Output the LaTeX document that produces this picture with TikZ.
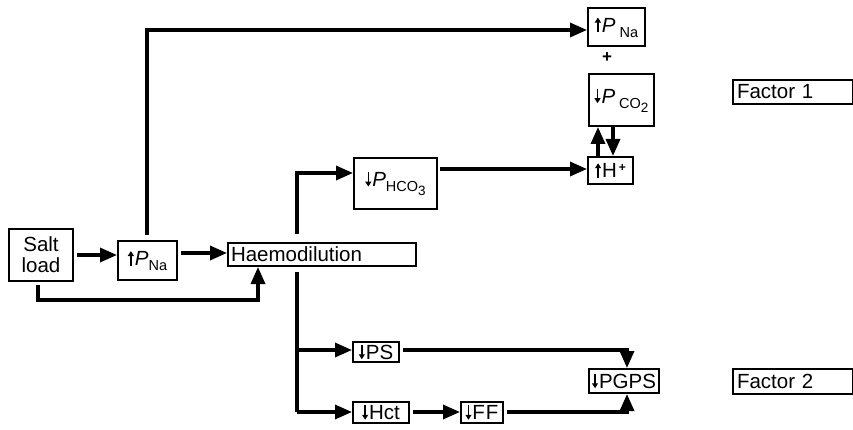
\documentclass[tikz,border=0pt]{standalone}
\usepackage{fontspec}
\setmainfont{Liberation Sans}
\usetikzlibrary{arrows.meta}
\newcommand{\upa}{\tikz[baseline=0pt,x=1pt,y=1pt]\draw[line width=1.5pt,-{Triangle[length=5pt,width=6pt]}] (3,0) -- (3,14.5);\kern1pt}
\newcommand{\dna}{\tikz[baseline=0pt,x=1pt,y=1pt]\draw[line width=1.5pt,-{Triangle[length=5pt,width=6pt]}] (3,14.5) -- (3,0);\kern1pt}
\newcommand{\subs}[1]{\raisebox{-5pt}{\fontsize{14.5}{14.5}\selectfont #1}}
\newcommand{\subsub}[1]{\raisebox{-4pt}{\fontsize{13.5}{13.5}\selectfont #1}}
\begin{document}
\begin{tikzpicture}[x=1pt,y=-1pt,
  every node/.style={font=\fontsize{20.5}{23}\selectfont},
  bx/.style={draw,line width=2pt,inner sep=0pt,anchor=north west},
  conn/.style={line width=3.3pt},
  arr/.style={line width=3.3pt,-{Triangle[length=17pt,width=14pt]}}]
\useasboundingbox (0,0) rectangle (853,430);
% boxes
\node[bx,minimum width=64pt,minimum height=52pt,align=center] (salt) at (8,228) {Salt\\[-2pt]load};
\node[bx,minimum width=59pt,minimum height=39pt] (pna1) at (117,240) {\upa\textit{P}\subs{Na}};
\node[bx,minimum width=188pt,minimum height=23pt,text width=182pt,align=left,inner xsep=3pt] (haemo) at (227,242) {Haemodilution};
\node[bx,minimum width=57pt,minimum height=38pt] (pnatop) at (587,7) {\upa\textit{P}\subs{ Na}};
\node[font=\bfseries\fontsize{17}{17}\selectfont] (plus) at (607,58) {+};
\node[bx,minimum width=65pt,minimum height=52pt] (pco2) at (588,73) {\dna\textit{P}\subs{ CO\subsub{2}}};
\node[bx,minimum width=45pt,minimum height=27pt] (hplus) at (587,156) {\upa H\raisebox{6pt}{\fontsize{12}{12}\selectfont\bfseries\,+}};
\node[bx,minimum width=83pt,minimum height=51pt] (phco3) at (353,157) {\dna\textit{P}\subs{HCO\subsub{3}}};
\node[bx,minimum width=120pt,minimum height=24pt,text width=112pt,align=left,inner xsep=4pt] (f1) at (732,79) {Factor 1};
\node[bx,minimum width=46pt,minimum height=20pt] (ps) at (352,341) {\dna PS};
\node[bx,minimum width=56pt,minimum height=21pt] (hct) at (352,401) {\dna Hct};
\node[bx,minimum width=42pt,minimum height=21pt] (ff) at (460,401) {\dna F\kern1pt F};
\node[bx,minimum width=70pt,minimum height=24pt] (pgps) at (588,368) {\dna PGPS};
\node[bx,minimum width=120pt,minimum height=25pt,text width=112pt,align=left,inner xsep=4pt] (f2) at (732,368) {Factor 2};
% connectors
\draw[arr,shorten <=3pt] (salt.east |- 0,255) -- (pna1.west |- 0,255);
\draw[arr,shorten <=3pt] (pna1.east |- 0,253) -- (haemo.west |- 0,253);
\draw[arr,shorten <=3pt] (salt.south -| 38,0) -- (38,300) -- (258,300) -- (haemo.south -| 258,0);
\draw[arr,shorten <=5pt] (pna1.north -| 147,0) -- (147,30) -- (pnatop.west |- 0,30);
\draw[arr] (297,234) -- (297,173) -- (phco3.west |- 0,173);
\draw[arr,shorten <=2pt] (phco3.east |- 0,169) -- (hplus.west |- 0,169);
\draw[arr] (hplus.north -| 598,0) -- (pco2.south -| 598,0);
\draw[arr] (pco2.south -| 613,0) -- (hplus.north -| 613,0);
\draw[conn] (297,272) -- (297,412);
\draw[arr] (297,350) -- (ps.west |- 0,350);
\draw[arr] (297,412) -- (hct.west |- 0,412);
\draw[arr,shorten <=3pt] (hct.east |- 0,412) -- (ff.west |- 0,412);
\draw[arr,shorten <=3pt] (ps.east |- 0,350) -- (627,350) -- (pgps.north -| 627,0);
\draw[arr,shorten <=3pt] (ff.east |- 0,412) -- (627,412) -- (pgps.south -| 627,0);
\end{tikzpicture}
\end{document}
